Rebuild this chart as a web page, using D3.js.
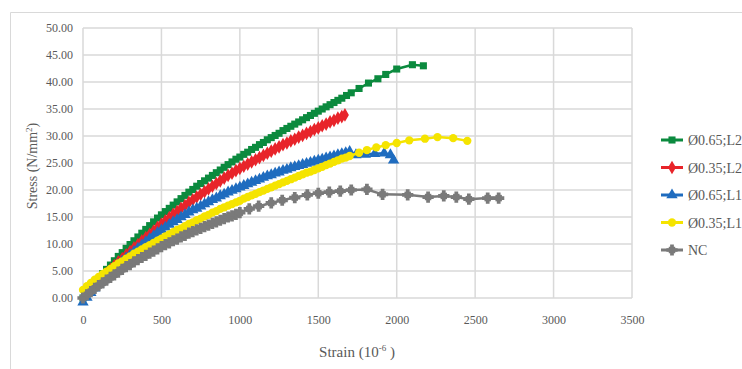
<!DOCTYPE html>
<html>
<head>
<meta charset="utf-8">
<script src="https://cdn.jsdelivr.net/npm/d3@7"></script>
<style>
  body { margin: 0; background: #fff; }
</style>
</head>
<body>
<div id="chart"></div>
<script>
// series labels, in legend order
var seriesNames = ["Ø0.65;L20", "Ø0.35;L20", "Ø0.65;L15", "Ø0.35;L15", "NC"];

// [strain (10^-6), stress (N/mm2)]
var g65L20 = [[0,0],[25,0.9],[50,1.8],[75,2.7],[100,3.6],[125,4.5],[150,5.3],[175,6.1],[200,6.9],[225,7.7],[250,8.4],[275,9.2],[300,9.9],[325,10.6],[350,11.3],[375,12.0],[400,12.7],[425,13.4],[450,14.1],[475,14.8],[500,15.4],[525,16.0],[550,16.6],[575,17.2],[600,17.8],[625,18.4],[650,19.0],[675,19.6],[700,20.1],[725,20.7],[750,21.2],[775,21.7],[800,22.2],[825,22.7],[850,23.2],[875,23.7],[900,24.2],[925,24.7],[950,25.2],[975,25.7],[1000,26.1],[1025,26.6],[1050,27.0],[1075,27.5],[1100,27.9],[1125,28.4],[1150,28.8],[1175,29.3],[1200,29.7],[1225,30.1],[1250,30.5],[1275,31.0],[1300,31.4],[1325,31.8],[1350,32.2],[1375,32.6],[1400,33.0],[1425,33.4],[1450,33.8],[1475,34.2],[1500,34.6],[1525,35.0],[1550,35.4],[1575,35.8],[1600,36.2],[1625,36.6],[1650,37.0],[1680,37.5],[1710,38.0],[1760,38.8],[1820,39.8],[1880,40.6],[1930,41.4],[2000,42.4],[2100,43.2],[2170,43.0]];
var g35L20 = [[0,0],[25,0.8],[50,1.6],[75,2.4],[100,3.1],[125,3.9],[150,4.6],[175,5.3],[200,6.0],[225,6.7],[250,7.3],[275,8.0],[300,8.6],[325,9.3],[350,9.9],[375,10.6],[400,11.2],[425,11.8],[450,12.4],[475,13.1],[500,13.7],[525,14.3],[550,14.9],[575,15.5],[600,16.0],[625,16.6],[650,17.1],[675,17.7],[700,18.2],[725,18.7],[750,19.2],[775,19.7],[800,20.2],[825,20.7],[850,21.2],[875,21.7],[900,22.2],[925,22.7],[950,23.1],[975,23.6],[1000,24.0],[1025,24.4],[1050,24.8],[1075,25.2],[1100,25.6],[1125,26.0],[1150,26.4],[1175,26.8],[1200,27.2],[1225,27.6],[1250,28.0],[1275,28.4],[1300,28.7],[1325,29.1],[1350,29.4],[1375,29.8],[1400,30.1],[1425,30.5],[1450,30.8],[1475,31.2],[1500,31.5],[1525,31.9],[1550,32.2],[1575,32.6],[1600,32.9],[1625,33.3],[1650,33.6],[1670,33.9]];
var g65L15 = [[0,-0.8],[25,0.1],[50,1.0],[75,1.8],[100,2.5],[125,3.3],[150,4.0],[175,4.8],[200,5.5],[225,6.2],[250,6.8],[275,7.4],[300,8.0],[325,8.6],[350,9.2],[375,9.8],[400,10.4],[425,11.0],[450,11.5],[475,12.1],[500,12.6],[525,13.1],[550,13.6],[575,14.1],[600,14.5],[625,15.0],[650,15.4],[675,15.9],[700,16.3],[725,16.6],[750,17.0],[775,17.4],[800,17.8],[825,18.2],[850,18.5],[875,18.9],[900,19.2],[925,19.6],[950,19.9],[975,20.2],[1000,20.5],[1025,20.8],[1050,21.1],[1075,21.4],[1100,21.7],[1125,22.0],[1150,22.3],[1175,22.6],[1200,22.8],[1225,23.1],[1250,23.3],[1275,23.6],[1300,23.8],[1325,24.1],[1350,24.3],[1375,24.5],[1400,24.7],[1425,24.9],[1450,25.1],[1475,25.3],[1500,25.5],[1525,25.7],[1550,25.9],[1575,26.1],[1600,26.3],[1625,26.5],[1650,26.7],[1675,26.9],[1700,27.1],[1740,26.5],[1800,26.6],[1860,26.7],[1920,26.8],[1960,26.5],[1980,25.5]];
var g35L15 = [[0,1.5],[25,2.2],[50,2.8],[75,3.4],[100,3.9],[125,4.4],[150,4.9],[175,5.4],[200,5.9],[225,6.4],[250,6.8],[275,7.3],[300,7.7],[325,8.2],[350,8.6],[375,9.0],[400,9.4],[425,9.8],[450,10.2],[475,10.6],[500,11.0],[525,11.4],[550,11.8],[575,12.2],[600,12.6],[625,12.9],[650,13.3],[675,13.7],[700,14.0],[725,14.4],[750,14.7],[775,15.1],[800,15.4],[825,15.8],[850,16.1],[875,16.5],[900,16.8],[925,17.1],[950,17.4],[975,17.7],[1000,18.0],[1025,18.4],[1050,18.7],[1075,19.0],[1100,19.3],[1125,19.6],[1150,19.9],[1175,20.2],[1200,20.5],[1225,20.8],[1250,21.1],[1275,21.4],[1300,21.7],[1325,22.0],[1350,22.3],[1375,22.6],[1400,22.9],[1425,23.2],[1450,23.4],[1475,23.7],[1500,24.0],[1525,24.3],[1550,24.6],[1575,24.9],[1600,25.2],[1625,25.5],[1650,25.8],[1675,26.0],[1700,26.3],[1760,26.9],[1810,27.4],[1870,27.9],[1930,28.3],[2000,28.7],[2080,29.2],[2180,29.5],[2260,29.8],[2360,29.6],[2450,29.1]];
var gNC = [[0,0],[25,0.6],[50,1.2],[75,1.8],[100,2.3],[125,2.8],[150,3.3],[175,3.8],[200,4.3],[225,4.8],[250,5.3],[275,5.8],[300,6.2],[325,6.7],[350,7.1],[375,7.5],[400,7.9],[425,8.3],[450,8.7],[475,9.1],[500,9.5],[525,9.9],[550,10.2],[575,10.6],[600,10.9],[625,11.3],[650,11.6],[675,12.0],[700,12.3],[725,12.6],[750,12.9],[775,13.2],[800,13.5],[825,13.8],[850,14.1],[875,14.4],[900,14.7],[925,15.0],[950,15.2],[975,15.5],[1000,15.8],[1060,16.5],[1120,17.0],[1200,17.6],[1270,18.1],[1350,18.6],[1430,19.1],[1500,19.4],[1570,19.6],[1640,19.8],[1710,20.0],[1810,20.1],[1910,19.2],[2070,19.1],[2200,18.7],[2300,18.9],[2380,18.7],[2460,18.3],[2580,18.5],[2650,18.5]];

var xTicks = [0, 500, 1000, 1500, 2000, 2500, 3000, 3500];
var yTicks = [0, 5, 10, 15, 20, 25, 30, 35, 40, 45, 50];

var seriesData = [g65L20, g35L20, g65L15, g35L15, gNC];
var colors = ["#0b8a3e", "#e8242a", "#1f6cbf", "#f5e400", "#7a7a7a"];
var shapes = [d3.symbolSquare, d3.symbolDiamond, d3.symbolTriangle, d3.symbolCircle, d3.symbolSquare];
var sizes = [50, 54, 56, 54, 42];
var FONT = '"Liberation Serif", "Times New Roman", "DejaVu Serif", serif';

var W = 742, H = 369;
var svg = d3.select("#chart").append("svg")
  .attr("width", W)
  .attr("height", H);

// chart area border (runs off the page right and bottom)
svg.append("path")
  .attr("d", "M10.5," + (H + 2) + "V12.5H" + (W + 2))
  .attr("fill", "none")
  .attr("stroke", "#d9d9d9");

var x = d3.scaleLinear().domain([0, 3500]).range([83, 632]);
var y = d3.scaleLinear().domain([0, 50]).range([298, 28]);

// grid
svg.append("g").selectAll("line")
  .data(yTicks).enter().append("line")
  .attr("x1", x(0)).attr("x2", x(3500))
  .attr("y1", function(d) { return y(d); })
  .attr("y2", function(d) { return y(d); })
  .attr("stroke", "#d9d9d9").attr("stroke-width", 1.5);
svg.append("g").selectAll("line")
  .data(xTicks).enter().append("line")
  .attr("y1", y(0)).attr("y2", y(50))
  .attr("x1", function(d) { return x(d); })
  .attr("x2", function(d) { return x(d); })
  .attr("stroke", "#d9d9d9").attr("stroke-width", 1.5);

// axes, labels only
var yAxis = svg.append("g")
  .attr("transform", "translate(" + x(0) + ",0)")
  .call(d3.axisLeft(y).tickValues(yTicks).tickFormat(d3.format(".2f")).tickSize(0).tickPadding(10));
var xAxis = svg.append("g")
  .attr("transform", "translate(0," + y(0) + ")")
  .call(d3.axisBottom(x).tickValues(xTicks).tickFormat(d3.format("d")).tickSize(0).tickPadding(17));
[yAxis, xAxis].forEach(function(a) {
  a.attr("font-family", FONT).attr("font-size", 12);
  a.select(".domain").remove();
  a.selectAll("text").attr("fill", "#595959");
});

// axis titles
var yt = svg.append("text")
  .attr("transform", "translate(37,166) rotate(-90)")
  .attr("text-anchor", "middle")
  .attr("font-family", FONT).attr("font-size", 14).attr("fill", "#595959");
yt.append("tspan").text("Stress (N/mm");
yt.append("tspan").text("2").attr("dy", -5).attr("font-size", 9);
yt.append("tspan").text(")").attr("dy", 5);

var xt = svg.append("text")
  .attr("x", 357).attr("y", 357)
  .attr("text-anchor", "middle")
  .attr("font-family", FONT).attr("font-size", 15).attr("fill", "#595959");
xt.append("tspan").text("Strain (10");
xt.append("tspan").text("-6").attr("dy", -6).attr("font-size", 9);
xt.append("tspan").text(" )").attr("dy", 6);

// series
var line = d3.line()
  .x(function(d) { return x(d[0]); })
  .y(function(d) { return y(d[1]); });

function marker(sel, i) {
  sel.append("path")
    .attr("d", d3.symbol().type(shapes[i]).size(sizes[i]))
    .attr("fill", colors[i]);
  if (i == 4) {
    // NC marker: square with small cross ticks
    sel.append("path")
      .attr("d", d3.symbol().type(d3.symbolCross).size(70))
      .attr("fill", colors[i]);
  }
}

seriesData.forEach(function(data, i) {
  var g = svg.append("g");
  g.append("path")
    .attr("d", line(data))
    .attr("fill", "none")
    .attr("stroke", colors[i])
    .attr("stroke-width", 2.5);
  g.selectAll("g.mk")
    .data(data).enter().append("g")
    .attr("class", "mk")
    .attr("transform", function(d) { return "translate(" + x(d[0]) + "," + y(d[1]) + ")"; })
    .each(function() { marker(d3.select(this), i); });
});

// legend
var leg = svg.append("g");
seriesNames.forEach(function(name, i) {
  var cy = 140 + i * 27.5;
  leg.append("line")
    .attr("x1", 661).attr("x2", 683)
    .attr("y1", cy).attr("y2", cy)
    .attr("stroke", colors[i]).attr("stroke-width", 3);
  leg.append("g")
    .attr("transform", "translate(672," + cy + ")")
    .call(marker, i);
  leg.append("text")
    .attr("x", 688).attr("y", cy + 5)
    .attr("font-family", FONT).attr("font-size", 14).attr("fill", "#595959")
    .text(name);
});
</script>
</body>
</html>
